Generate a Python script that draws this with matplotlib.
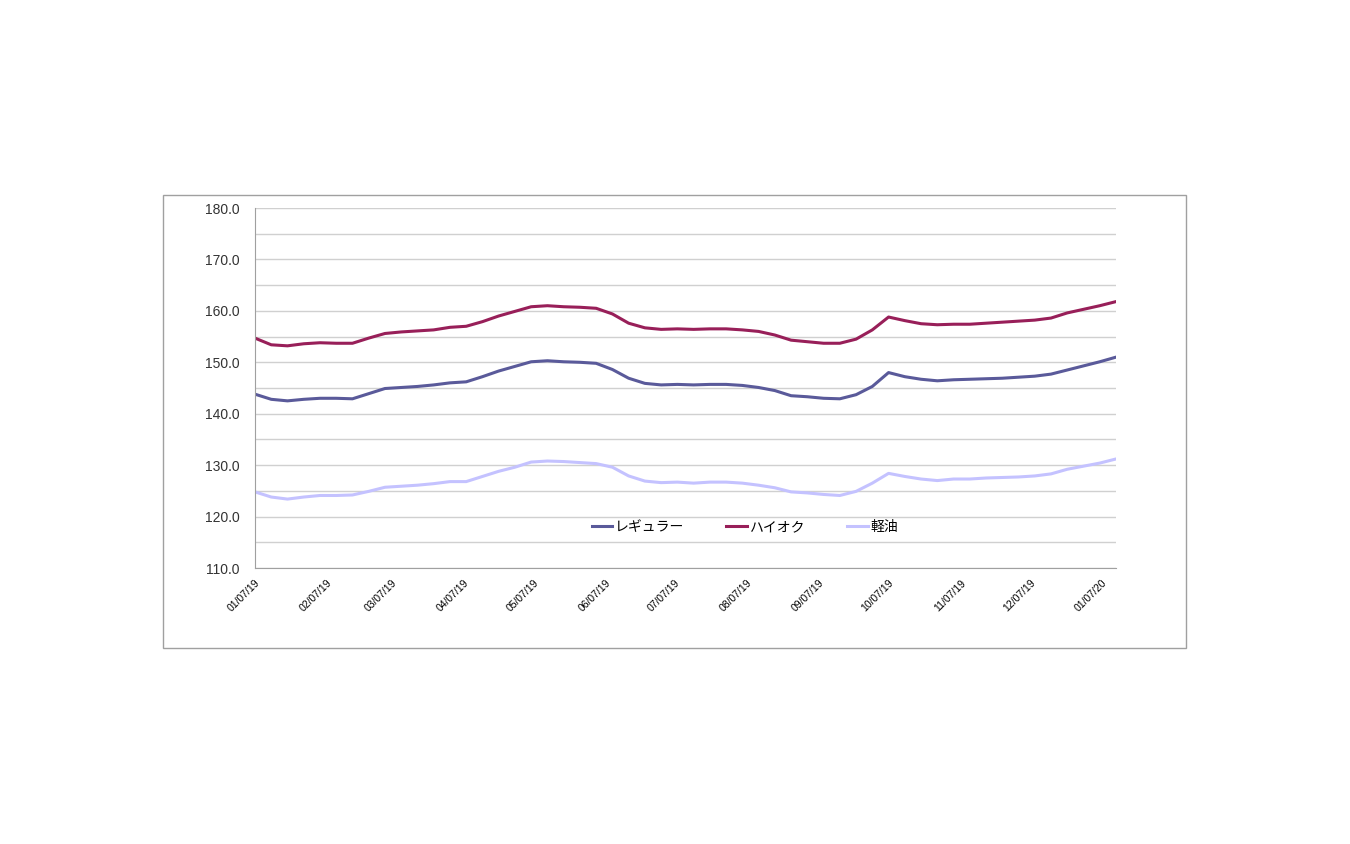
import matplotlib
matplotlib.use('Agg')
import matplotlib.pyplot as plt
import matplotlib.dates as mdates
from matplotlib.patches import Rectangle
import pandas as pd

plt.rcParams['font.family'] = ['Liberation Sans', 'Noto Sans CJK JP']

# weekly survey dates (Mondays)
dates = pd.date_range('2019-01-07', periods=54, freq='7D')
tick_dates = pd.date_range('2019-01-07', '2020-01-07', freq=pd.DateOffset(months=1))

regular = [143.8, 142.8, 142.5, 142.8, 143.0, 143.0, 142.9, 143.9, 144.9, 145.1,
           145.3, 145.6, 146.0, 146.2, 147.2, 148.3, 149.2, 150.1, 150.3, 150.1,
           150.0, 149.8, 148.6, 146.9, 145.9, 145.6, 145.7, 145.6, 145.7, 145.7,
           145.5, 145.1, 144.5, 143.5, 143.3, 143.0, 142.9, 143.7, 145.3, 148.0,
           147.2, 146.7, 146.4, 146.6, 146.7, 146.8, 146.9, 147.1, 147.3, 147.7,
           148.5, 149.3, 150.1, 151.0]
high_octane = [154.7, 153.4, 153.2, 153.6, 153.8, 153.7, 153.7, 154.7, 155.6, 155.9,
               156.1, 156.3, 156.8, 157.0, 157.9, 159.0, 159.9, 160.8, 161.0, 160.8,
               160.7, 160.5, 159.4, 157.6, 156.7, 156.4, 156.5, 156.4, 156.5, 156.5,
               156.3, 156.0, 155.3, 154.3, 154.0, 153.7, 153.7, 154.5, 156.3, 158.8,
               158.1, 157.5, 157.3, 157.4, 157.4, 157.6, 157.8, 158.0, 158.2, 158.6,
               159.6, 160.3, 161.0, 161.8]
diesel = [124.8, 123.8, 123.4, 123.8, 124.1, 124.1, 124.2, 124.9, 125.7, 125.9,
          126.1, 126.4, 126.8, 126.8, 127.8, 128.8, 129.6, 130.6, 130.8, 130.7,
          130.5, 130.3, 129.6, 127.9, 126.9, 126.6, 126.7, 126.5, 126.7, 126.7,
          126.5, 126.1, 125.6, 124.8, 124.6, 124.3, 124.1, 124.9, 126.5, 128.4,
          127.8, 127.3, 127.0, 127.3, 127.3, 127.5, 127.6, 127.7, 127.9, 128.3,
          129.2, 129.8, 130.4, 131.2]

labels = ['レギュラー', 'ハイオク', '軽油']
colors = ['#5a5a9a', '#981f59', '#c4c2ff']

fig = plt.figure(figsize=(13.5, 8.44), dpi=100)
fig.patches.append(Rectangle((163 / 1350, 1 - 648 / 844), 1023 / 1350, 453 / 844,
                             transform=fig.transFigure, fill=False,
                             edgecolor='#a0a0a0', linewidth=1))

ax = fig.add_axes([255 / 1350, 1 - 568 / 844, 861 / 1350, 360 / 844])
for series, label, color in zip([regular, high_octane, diesel], labels, colors):
    ax.plot(dates, series, color=color, linewidth=2.2, label=label)

ax.set_ylim(110, 180)
ax.set_yticks(range(110, 181, 10))
ax.set_yticks(range(115, 180, 10), minor=True)
ax.yaxis.set_major_formatter(plt.FormatStrFormatter('%.1f'))
ax.grid(axis='y', which='both', color='#d0d0d0', linewidth=1)
ax.set_axisbelow(True)

ax.set_xlim(dates[0], dates[-1])
ax.set_xticks(tick_dates)
ax.xaxis.set_major_formatter(mdates.DateFormatter('%m/%d/%y'))
for lbl in ax.get_xticklabels():
    lbl.set_rotation(45)
    lbl.set_ha('right')
    lbl.set_va('top')
    lbl.set_rotation_mode('anchor')
    lbl.set_fontsize(7.5)

ax.tick_params(axis='y', which='both', length=0, labelsize=10, pad=11, colors='#333333')
ax.tick_params(axis='x', length=0, pad=7, colors='#000000')

for side in ['top', 'right']:
    ax.spines[side].set_visible(False)
ax.spines['left'].set_color('#a0a0a0')
ax.spines['bottom'].set_color('#a0a0a0')

ax.legend(loc='center', bbox_to_anchor=(0.569, 0.113), ncol=3, frameon=False,
          fontsize=10, handlelength=1.5, handletextpad=0.2, columnspacing=3.0)

fig.savefig('out.png', dpi=100, facecolor='white')
